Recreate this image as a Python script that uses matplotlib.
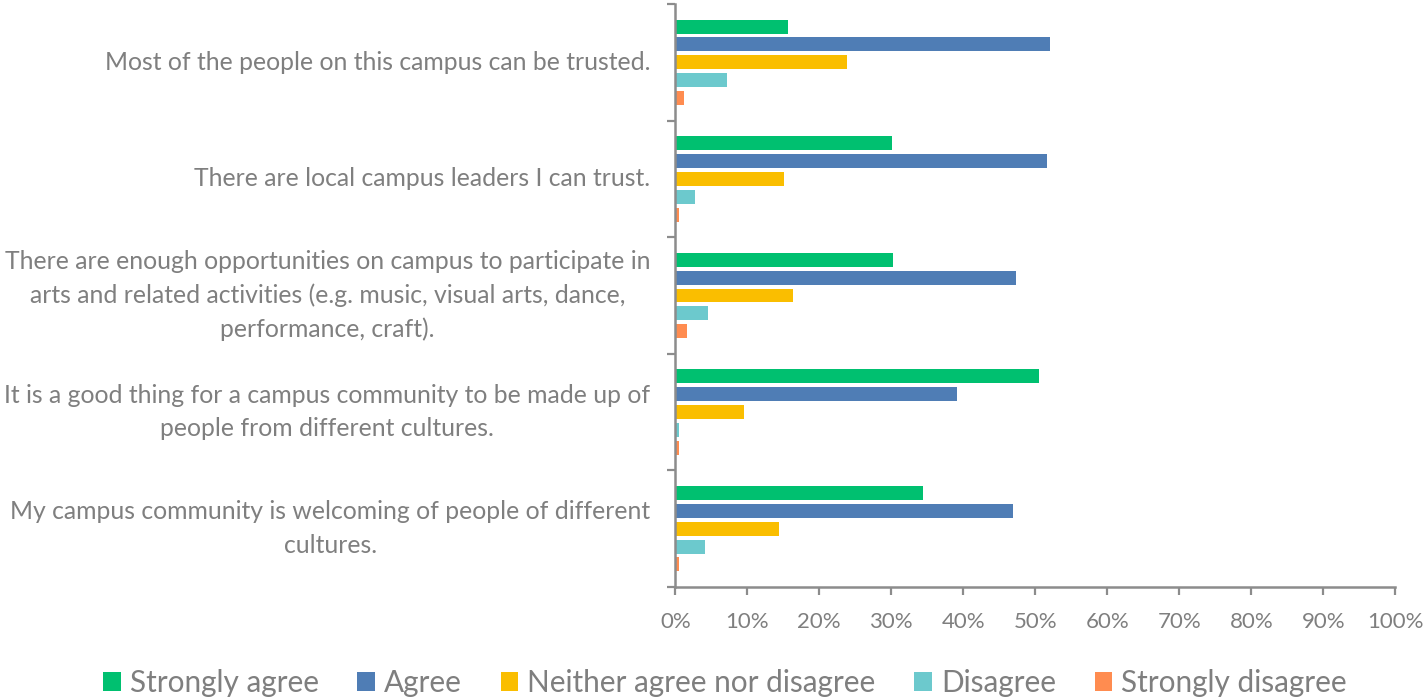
import numpy as np
import matplotlib.pyplot as plt
from matplotlib.ticker import PercentFormatter

statements = [
    "Most of the people on this campus can be trusted.",
    "There are local campus leaders I can trust.",
    "There are enough opportunities on campus to participate in\narts and related activities (e.g. music, visual arts, dance,\nperformance, craft).",
    "It is a good thing for a campus community to be made up of\npeople from different cultures.",
    "My campus community is welcoming of people of different\ncultures.",
]
responses = ["Strongly agree", "Agree", "Neither agree nor disagree", "Disagree", "Strongly disagree"]

strongly_agree = [15.7, 30.1, 30.3, 50.5, 34.4]
agree = [52.1, 51.6, 47.3, 39.1, 46.9]
neither = [23.8, 15.1, 16.3, 9.5, 14.4]
disagree = [7.2, 2.8, 4.6, 0.5, 4.1]
strongly_disagree = [1.2, 0.5, 1.7, 0.5, 0.5]

series = [strongly_agree, agree, neither, disagree, strongly_disagree]
colors = ["#00C070", "#4F7DB5", "#FABE00", "#6CC9CD", "#FF8C50"]

grey = "#7F7F7F"
axis_grey = "#8C8C8C"
plt.rcParams["font.family"] = ["Lato", "DejaVu Sans"]

fig = plt.figure(figsize=(14.27, 6.98), dpi=100)
ax = fig.add_axes([0.4732, 0.159, 0.5046, 0.8353])

y = np.arange(len(statements))
slot = 0.153
for j, (vals, col) in enumerate(zip(series, colors)):
    ax.barh(y + (j - 2) * slot, vals, height=0.12, color=col, label=responses[j])

ax.set_xlim(0, 100)
ax.set_ylim(len(statements) - 0.5, -0.5)
ax.xaxis.set_major_formatter(PercentFormatter(decimals=0))
ax.set_xticks(np.arange(0, 101, 10))

ax.set_yticks(y)
ax.set_yticklabels(statements, ha="right", va="center", multialignment="center", linespacing=1.55)
ax.set_yticks(np.arange(-0.5, len(statements)), minor=True)

ax.tick_params(axis="y", which="major", length=0, pad=18, labelsize=17.8, labelcolor=grey)
ax.tick_params(axis="y", which="minor", length=6, width=1.6, color=axis_grey)
ax.tick_params(axis="x", length=6, width=1.6, color=axis_grey, pad=12, labelsize=16, labelcolor=grey)

for side in ["top", "right"]:
    ax.spines[side].set_visible(False)
for side in ["left", "bottom"]:
    ax.spines[side].set_color(axis_grey)
    ax.spines[side].set_linewidth(1.8)

fig.legend(loc="center", bbox_to_anchor=(725 / 1427, 1 - 683 / 698), ncol=5, frameon=False,
           fontsize=21.4, labelcolor=grey, handlelength=0.6, handleheight=0.6,
           handletextpad=0.3, columnspacing=1.3)

fig.savefig("out.png", dpi=100)
plt.close(fig)
